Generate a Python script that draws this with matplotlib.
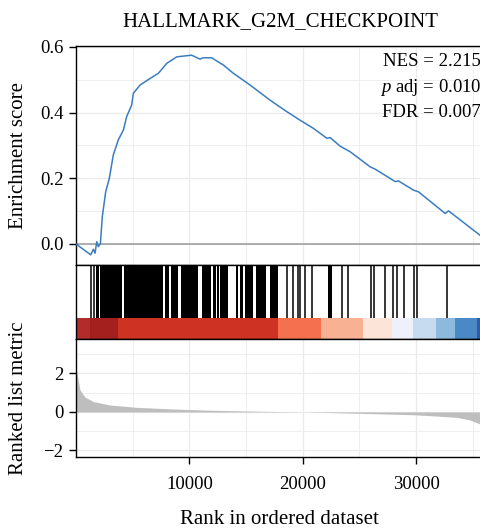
import matplotlib
matplotlib.use("Agg")
import matplotlib.pyplot as plt
from matplotlib.ticker import MultipleLocator, FixedLocator

plt.rcParams["font.family"] = ["Liberation Serif", "DejaVu Serif"]
plt.rcParams["mathtext.fontset"] = "custom"
plt.rcParams["mathtext.rm"] = "Liberation Serif"
plt.rcParams["mathtext.it"] = "Liberation Serif:italic"

# ---------------- data ----------------
N_GENES = 36600
title = "HALLMARK_G2M_CHECKPOINT"

es_rank = [0, 1300, 1530, 1680, 1830, 1970, 2150, 2320, 2620, 2940, 3290, 3730,
           4180, 4470, 4910, 5060, 5650, 6530, 7270, 8000, 8890, 10200, 10940,
           11200, 11970, 13000, 13880, 15360, 17120, 18600, 19770, 20950, 22130,
           22420, 23300, 24180, 25950, 26390, 28160, 28450, 29770, 30210, 32570,
           32860, 35740, 36600]
es_score = [0.0, -0.033, -0.016, -0.028, 0.007, -0.008, 0.000, 0.083, 0.159,
            0.200, 0.271, 0.317, 0.347, 0.388, 0.423, 0.459, 0.484, 0.504, 0.520,
            0.550, 0.570, 0.575, 0.563, 0.567, 0.567, 0.545, 0.520, 0.484, 0.438,
            0.403, 0.377, 0.352, 0.322, 0.324, 0.298, 0.281, 0.235, 0.228, 0.190,
            0.192, 0.164, 0.159, 0.093, 0.101, 0.024, 0.0]

metric_rank = [1, 150, 350, 790, 1530, 3000, 5360, 8300, 11200, 15000, 20000,
               25000, 30000, 33600, 34770, 35740, 36200, 36600]
metric_value = [2.3, 1.8, 1.15, 0.77, 0.54, 0.36, 0.24, 0.16, 0.10, 0.05, 0.0,
                -0.07, -0.15, -0.28, -0.42, -0.65, -1.0, -1.8]

# isolated gene-set hits (rank positions)
hit_ranks = [1290, 1600, 18650, 19125, 19565, 19770, 20210, 20800, 23430, 24030,
             26040, 26330, 27270, 28000, 28305, 28950, 29830, 30070, 32720]
# runs of densely packed hits (start rank, end rank)
hit_run_start = [1790, 2118, 4210, 7880, 8360, 9295, 11095, 12090, 12420, 12710,
                 14095, 14450, 14890, 15915, 17095, 22240]
hit_run_end = [2000, 4060, 7705, 8180, 9000, 10740, 11915, 12356, 12595, 13390,
               14270, 14715, 15650, 16770, 17830, 22570]

# ranked-list colour bar
bar_edges = [0, 1240, 3707, 17830, 21620, 25330, 27890, 29740, 31770, 33450, 35390, 36600]
bar_colors = ["#B32C2C", "#A3201F", "#CD3223", "#F4704F", "#F9B193", "#FDE4D9",
              "#EEF0FB", "#C6DBEF", "#8DB9DD", "#4A89C6", "#2A5DAE"]

stats_lines = ["NES = 2.215", "$\\it{p}$ adj = 0.010", "FDR = 0.007"]

x_major = [10000, 20000, 30000]
x_minor = [5000, 15000, 25000, 35000]

# ---------------- figure ----------------
W, H = 481, 529
fig = plt.figure(figsize=(W / 100, H / 100), dpi=100)

def fx(px):
    return px / W

def fy(py):
    return (H - py) / H

left = fx(76)
width = (N_GENES / 88.22) / W

ax1 = fig.add_axes([left, fy(265), width, (265 - 46) / H])
ax2 = fig.add_axes([left, fy(339), width, (339 - 265) / H])
ax3 = fig.add_axes([left, fy(457), width, (457 - 339) / H])

grid_c = "#EBEBEB"
spine_lw = 1.0
tick_fs = 13.5

for ax in (ax1, ax2, ax3):
    ax.set_xlim(0, N_GENES)
    for s in ax.spines.values():
        s.set_linewidth(spine_lw)
        s.set_color("black")
    ax.set_axisbelow(True)

# --- top: running enrichment score
ax1.xaxis.set_major_locator(FixedLocator(x_major))
ax1.xaxis.set_minor_locator(FixedLocator(x_minor))
ax1.yaxis.set_major_locator(FixedLocator([0.0, 0.2, 0.4, 0.6]))
ax1.yaxis.set_minor_locator(FixedLocator([0.1, 0.3, 0.5]))
ax1.set_yticklabels(["0.0", "0.2", "0.4", "0.6"])
ax1.set_ylim(-0.064, 0.603)
ax1.grid(which="major", color=grid_c, lw=0.9)
ax1.grid(which="minor", color=grid_c, lw=0.6)
ax1.tick_params(axis="x", which="both", length=0, labelbottom=False)
ax1.tick_params(axis="y", which="minor", length=0)
ax1.tick_params(axis="y", which="major", length=5, width=1.0, pad=4,
                labelsize=tick_fs)
ax1.axhline(0, color="#999999", lw=1.1, zorder=2)
ax1.plot(es_rank, es_score, color="#3A7DC2", lw=1.1, zorder=3)

for i, t in enumerate(stats_lines):
    fig.text(fx(481), fy([66, 91.5, 117][i]), t, ha="right", va="baseline",
             fontsize=13.5)

# --- middle: hits and colour bar
ax2.set_ylim(0, 1)
bar_top = (339 - 318) / 74
ax2.set_xticks([])
ax2.set_yticks([])
ax2.vlines(hit_ranks, bar_top, 1, color="black", lw=1.1)
ax2.broken_barh([(s, e - s) for s, e in zip(hit_run_start, hit_run_end)],
                (bar_top, 1 - bar_top), facecolor="black", edgecolor="none")
ax2.broken_barh([(bar_edges[i], bar_edges[i + 1] - bar_edges[i])
                 for i in range(len(bar_colors))],
                (0, bar_top), facecolors=bar_colors, edgecolor="none")

# --- bottom: ranked list metric
ax3.set_ylim(-2.34, 3.79)
ax3.xaxis.set_major_locator(FixedLocator(x_major))
ax3.xaxis.set_minor_locator(FixedLocator(x_minor))
ax3.yaxis.set_major_locator(FixedLocator([-2, 0, 2]))
ax3.yaxis.set_minor_locator(FixedLocator([-1, 1, 3]))
ax3.grid(which="major", color=grid_c, lw=0.9)
ax3.grid(which="minor", color=grid_c, lw=0.6)
ax3.tick_params(which="minor", length=0)
ax3.tick_params(which="major", length=5, width=1.0, labelsize=tick_fs)
ax3.tick_params(axis="x", which="major", pad=9)
ax3.tick_params(axis="y", which="major", pad=4)
ax3.fill_between(metric_rank, 0, metric_value, color="#BEBEBE", lw=0, zorder=2)

# --- texts
fig.text(fx(280), fy(25.7), title, ha="center", va="baseline", fontsize=15)
fig.text(fx(18.5), fy(155.5), "Enrichment score", rotation=90, ha="center",
         va="center", fontsize=15)
fig.text(fx(18.5), fy(398), "Ranked list metric", rotation=90, ha="center",
         va="center", fontsize=15)
fig.text(fx(279.5), fy(524), "Rank in ordered dataset", ha="center",
         va="baseline", fontsize=15)

fig.savefig("out.png", dpi=100)
